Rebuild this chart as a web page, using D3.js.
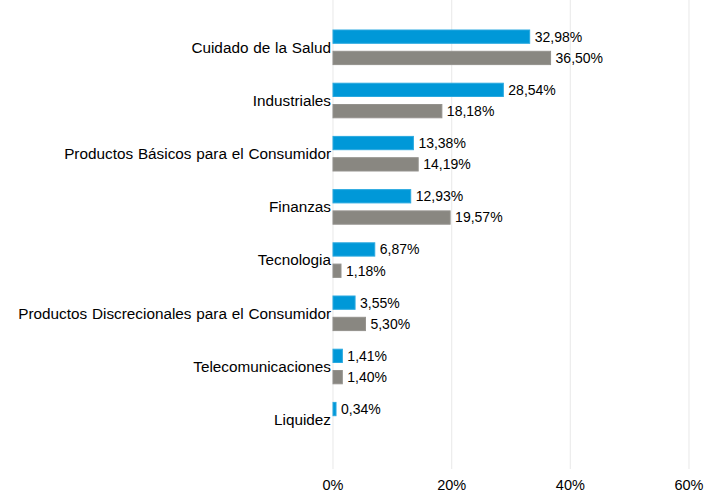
<!DOCTYPE html>
<html>
<head>
<meta charset="utf-8">
<script src="https://cdn.jsdelivr.net/npm/d3@7"></script>
<style>
	body{margin:0;background:#fff;}
	svg text{font-family:"Liberation Sans", Arial, sans-serif;fill:#000;}
</style>
</head>
<body>
<div id="chart"></div>
<script>
const categories = ["Cuidado de la Salud", "Industriales", "Productos Básicos para el Consumidor", "Finanzas",
	"Tecnologia", "Productos Discrecionales para el Consumidor", "Telecomunicaciones", "Liquidez"];
const seriesBlue = [32.98, 28.54, 13.38, 12.93, 6.87, 3.55, 1.41, 0.34];
const seriesGray = [36.50, 18.18, 14.19, 19.57, 1.18, 5.30, 1.40, null];
const tickValues = [0, 20, 40, 60];

class BarChart{
	constructor(elementId){
		this.width = 705;
		this.height = 494;
		this.svg = d3.select(elementId).append("svg")
			.attr("width", this.width)
			.attr("height", this.height);
		this.colors = {blue: "#0098d8", gray: "#898781"};
	}

	doChart(){
		let svg = this.svg,
			that = this,
			x = d3.scaleLinear().domain([0, 60]).range([333, 689]),
			y = d3.scaleBand().domain(categories).range([20.7, 446.3]).paddingInner(0.35).paddingOuter(0.175),
			y1 = d3.scaleBand().domain(["blue", "gray"]).range([0, y.bandwidth()]).paddingInner(0.376),
			format = v => v.toFixed(2).replace(".", ",") + "%";

		// grid
		svg.append("g").selectAll("line")
			.data(tickValues)
			.enter().append("line")
			.attr("x1", d => x(d)).attr("x2", d => x(d))
			.attr("y1", 0).attr("y2", 469)
			.attr("stroke", "#ececec")
			.attr("stroke-width", 1.2);

		// x axis labels
		svg.append("g").selectAll("text")
			.data(tickValues)
			.enter().append("text")
			.attr("x", d => x(d))
			.attr("y", 490)
			.attr("text-anchor", "middle")
			.style("font-size", "14.5px")
			.text(d => d + "%");

		let rows = categories.map((c, i) => ({cat: c, blue: seriesBlue[i], gray: seriesGray[i]}));

		let groups = svg.append("g").selectAll("g")
			.data(rows)
			.enter().append("g")
			.attr("transform", d => "translate(0," + y(d.cat) + ")");

		// category labels
		groups.append("text")
			.attr("x", 331)
			.attr("y", y.bandwidth() / 2)
			.attr("dy", "0.35em")
			.attr("text-anchor", "end")
			.style("font-size", "15.3px")
			.style("word-spacing", "0.6px")
			.text(d => d.cat);

		["blue", "gray"].forEach(function(key){
			let sub = groups.filter(d => d[key] !== null);
			sub.append("rect")
				.attr("x", x(0))
				.attr("y", y1(key))
				.attr("width", d => x(d[key]) - x(0) + 1)
				.attr("height", y1.bandwidth())
				.attr("fill", that.colors[key])
				.attr("stroke", key === "blue" ? "#2aa9e0" : "#94928d")
				.attr("stroke-width", 1);
			sub.append("text")
				.attr("x", d => x(d[key]) + 6)
				.attr("y", y1(key) + y1.bandwidth() / 2)
				.attr("dy", "0.35em")
				.style("font-size", "14px")
				.text(d => format(d[key]));
		});
	}
}

let chart = new BarChart("#chart");
chart.doChart();
</script>
</body>
</html>
